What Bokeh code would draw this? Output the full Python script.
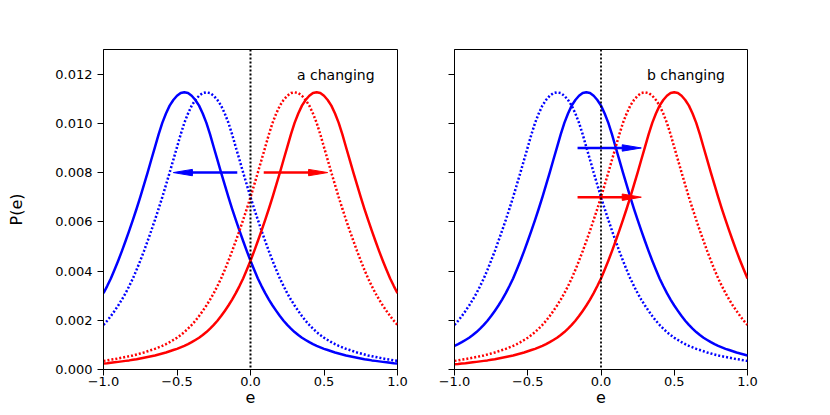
import numpy as np
from bokeh.plotting import figure
from bokeh.layouts import row
from bokeh.models import Span, FixedTicker, CustomJSTickFormatter, Range1d
from bokeh.embed import file_html
from bokeh.resources import INLINE
from bokeh.core.properties import value

# ---- data, e = -1.0 ... 1.0 in steps of 0.025 ----
e = [round(-1 + 0.025 * i, 3) for i in range(81)]

x_ticks = [-1.0, -0.5, 0.0, 0.5, 1.0]
y_ticks = [0.0, 0.002, 0.004, 0.006, 0.008, 0.010, 0.012]

# panel "a changing"
a_blue_solid = [0.00310, 0.00339, 0.00370, 0.00405, 0.00442, 0.00481, 0.00522, 0.00564, 0.00608, 0.00653,
                0.00700, 0.00750, 0.00800, 0.00852, 0.00903, 0.00955, 0.01002, 0.01040, 0.01072, 0.01095,
                0.01112, 0.01123, 0.01126,
                0.01123, 0.01112, 0.01095, 0.01072, 0.01040, 0.01002, 0.00955, 0.00903, 0.00852, 0.00800,
                0.00750, 0.00700, 0.00653, 0.00608, 0.00564, 0.00522, 0.00481, 0.00442, 0.00405, 0.00370,
                0.00339, 0.00310, 0.00284, 0.00260, 0.00238, 0.00217, 0.00198, 0.00181, 0.00166, 0.00152,
                0.00140, 0.00129, 0.00120, 0.00111, 0.00103, 0.00096, 0.00090, 0.00084, 0.00079, 0.00074,
                0.00069, 0.00065, 0.00061, 0.00057, 0.00054, 0.00051, 0.00048, 0.00045, 0.00042, 0.00040,
                0.00037, 0.00035, 0.00033, 0.00031, 0.00029, 0.00027, 0.00025, 0.00024]
a_blue_dot = [0.00181, 0.00198, 0.00217, 0.00238, 0.00260, 0.00284, 0.00310, 0.00339, 0.00370, 0.00405,
              0.00442, 0.00481, 0.00522, 0.00564, 0.00608, 0.00653, 0.00700, 0.00750, 0.00800, 0.00852,
              0.00903, 0.00955, 0.01002, 0.01040, 0.01072, 0.01095, 0.01112, 0.01123, 0.01126,
              0.01123, 0.01112, 0.01095, 0.01072, 0.01040, 0.01002, 0.00955, 0.00903, 0.00852, 0.00800,
              0.00750, 0.00700, 0.00653, 0.00608, 0.00564, 0.00522, 0.00481, 0.00442, 0.00405, 0.00370,
              0.00339, 0.00310, 0.00284, 0.00260, 0.00238, 0.00217, 0.00198, 0.00181, 0.00166, 0.00152,
              0.00140, 0.00129, 0.00120, 0.00111, 0.00103, 0.00096, 0.00090, 0.00084, 0.00079, 0.00074,
              0.00069, 0.00065, 0.00061, 0.00057, 0.00054, 0.00051, 0.00048, 0.00045, 0.00042, 0.00040,
              0.00037, 0.00035]
a_red_dot = [0.00035, 0.00037, 0.00040, 0.00042, 0.00045, 0.00048, 0.00051, 0.00054, 0.00057, 0.00061,
             0.00065, 0.00069, 0.00074, 0.00079, 0.00084, 0.00090, 0.00096, 0.00103, 0.00111, 0.00120,
             0.00129, 0.00140, 0.00152, 0.00166,
             0.00181, 0.00198, 0.00217, 0.00238, 0.00260, 0.00284, 0.00310, 0.00339, 0.00370, 0.00405,
             0.00442, 0.00481, 0.00522, 0.00564, 0.00608, 0.00653, 0.00700, 0.00750, 0.00800, 0.00852,
             0.00903, 0.00955, 0.01002, 0.01040, 0.01072, 0.01095, 0.01112, 0.01123, 0.01126,
             0.01123, 0.01112, 0.01095, 0.01072, 0.01040, 0.01002, 0.00955, 0.00903, 0.00852, 0.00800,
             0.00750, 0.00700, 0.00653, 0.00608, 0.00564, 0.00522, 0.00481, 0.00442, 0.00405, 0.00370,
             0.00339, 0.00310, 0.00284, 0.00260, 0.00238, 0.00217, 0.00198, 0.00181]
a_red_solid = [0.00024, 0.00025, 0.00027, 0.00029, 0.00031, 0.00033, 0.00035, 0.00037, 0.00040, 0.00042,
               0.00045, 0.00048, 0.00051, 0.00054, 0.00057, 0.00061, 0.00065, 0.00069, 0.00074, 0.00079,
               0.00084, 0.00090, 0.00096, 0.00103, 0.00111, 0.00120, 0.00129, 0.00140, 0.00152, 0.00166,
               0.00181, 0.00198, 0.00217, 0.00238, 0.00260, 0.00284, 0.00310, 0.00339, 0.00370, 0.00405,
               0.00442, 0.00481, 0.00522, 0.00564, 0.00608, 0.00653, 0.00700, 0.00750, 0.00800, 0.00852,
               0.00903, 0.00955, 0.01002, 0.01040, 0.01072, 0.01095, 0.01112, 0.01123, 0.01126,
               0.01123, 0.01112, 0.01095, 0.01072, 0.01040, 0.01002, 0.00955, 0.00903, 0.00852, 0.00800,
               0.00750, 0.00700, 0.00653, 0.00608, 0.00564, 0.00522, 0.00481, 0.00442, 0.00405, 0.00370,
               0.00339, 0.00310]

# panel "b changing"
b_blue_dot = [0.00181, 0.00198, 0.00217, 0.00238, 0.00260, 0.00284, 0.00310, 0.00339, 0.00370, 0.00405,
              0.00442, 0.00481, 0.00522, 0.00564, 0.00608, 0.00653, 0.00700, 0.00750, 0.00800, 0.00852,
              0.00903, 0.00955, 0.01002, 0.01040, 0.01072, 0.01095, 0.01112, 0.01123, 0.01126,
              0.01123, 0.01112, 0.01095, 0.01072, 0.01040, 0.01002, 0.00955, 0.00903, 0.00852, 0.00800,
              0.00750, 0.00700, 0.00653, 0.00608, 0.00564, 0.00522, 0.00481, 0.00442, 0.00405, 0.00370,
              0.00339, 0.00310, 0.00284, 0.00260, 0.00238, 0.00217, 0.00198, 0.00181, 0.00166, 0.00152,
              0.00140, 0.00129, 0.00120, 0.00111, 0.00103, 0.00096, 0.00090, 0.00084, 0.00079, 0.00074,
              0.00069, 0.00065, 0.00061, 0.00057, 0.00054, 0.00051, 0.00048, 0.00045, 0.00042, 0.00040,
              0.00037, 0.00035]
b_blue_solid = [0.00096, 0.00103, 0.00111, 0.00120, 0.00129, 0.00140, 0.00152, 0.00166,
                0.00181, 0.00198, 0.00217, 0.00238, 0.00260, 0.00284, 0.00310, 0.00339, 0.00370, 0.00405,
                0.00442, 0.00481, 0.00522, 0.00564, 0.00608, 0.00653, 0.00700, 0.00750, 0.00800, 0.00852,
                0.00903, 0.00955, 0.01002, 0.01040, 0.01072, 0.01095, 0.01112, 0.01123, 0.01126,
                0.01123, 0.01112, 0.01095, 0.01072, 0.01040, 0.01002, 0.00955, 0.00903, 0.00852, 0.00800,
                0.00750, 0.00700, 0.00653, 0.00608, 0.00564, 0.00522, 0.00481, 0.00442, 0.00405, 0.00370,
                0.00339, 0.00310, 0.00284, 0.00260, 0.00238, 0.00217, 0.00198, 0.00181, 0.00166, 0.00152,
                0.00140, 0.00129, 0.00120, 0.00111, 0.00103, 0.00096, 0.00090, 0.00084, 0.00079, 0.00074,
                0.00069, 0.00065, 0.00061, 0.00057]
b_red_dot = [0.00035, 0.00037, 0.00040, 0.00042, 0.00045, 0.00048, 0.00051, 0.00054, 0.00057, 0.00061,
             0.00065, 0.00069, 0.00074, 0.00079, 0.00084, 0.00090, 0.00096, 0.00103, 0.00111, 0.00120,
             0.00129, 0.00140, 0.00152, 0.00166,
             0.00181, 0.00198, 0.00217, 0.00238, 0.00260, 0.00284, 0.00310, 0.00339, 0.00370, 0.00405,
             0.00442, 0.00481, 0.00522, 0.00564, 0.00608, 0.00653, 0.00700, 0.00750, 0.00800, 0.00852,
             0.00903, 0.00955, 0.01002, 0.01040, 0.01072, 0.01095, 0.01112, 0.01123, 0.01126,
             0.01123, 0.01112, 0.01095, 0.01072, 0.01040, 0.01002, 0.00955, 0.00903, 0.00852, 0.00800,
             0.00750, 0.00700, 0.00653, 0.00608, 0.00564, 0.00522, 0.00481, 0.00442, 0.00405, 0.00370,
             0.00339, 0.00310, 0.00284, 0.00260, 0.00238, 0.00217, 0.00198, 0.00181]
b_red_solid = [0.00021, 0.00022, 0.00024, 0.00025, 0.00027, 0.00029, 0.00031, 0.00033, 0.00035, 0.00037,
               0.00040, 0.00042, 0.00045, 0.00048, 0.00051, 0.00054, 0.00057, 0.00061, 0.00065, 0.00069,
               0.00074, 0.00079, 0.00084, 0.00090, 0.00096, 0.00103, 0.00111, 0.00120, 0.00129, 0.00140,
               0.00152, 0.00166,
               0.00181, 0.00198, 0.00217, 0.00238, 0.00260, 0.00284, 0.00310, 0.00339, 0.00370, 0.00405,
               0.00442, 0.00481, 0.00522, 0.00564, 0.00608, 0.00653, 0.00700, 0.00750, 0.00800, 0.00852,
               0.00903, 0.00955, 0.01002, 0.01040, 0.01072, 0.01095, 0.01112, 0.01123, 0.01126,
               0.01123, 0.01112, 0.01095, 0.01072, 0.01040, 0.01002, 0.00955, 0.00903, 0.00852, 0.00800,
               0.00750, 0.00700, 0.00653, 0.00608, 0.00564, 0.00522, 0.00481, 0.00442, 0.00405, 0.00370]

for _s in (a_blue_solid, a_blue_dot, a_red_dot, a_red_solid, b_blue_dot, b_blue_solid, b_red_dot, b_red_solid):
    assert len(_s) == len(e), len(_s)

# arrows: start x, tip x, y
a_arrow_start = [-0.09, 0.09]
a_arrow_tip = [-0.525, 0.525]
a_arrow_y = [0.008, 0.008]
b_arrow_start = [-0.16, -0.16]
b_arrow_tip = [0.275, 0.275]
b_arrow_y = [0.009, 0.007]
arrow_colors = ["#0000ff", "#ff0000"]

panel_titles = ["a changing", "b changing"]

BLUE = "#0000ff"
RED = "#ff0000"
FONT = "DejaVu Sans"
HEAD_LEN = 0.13
HEAD_HALF = 0.00013
FIG_H = 412


def make_fig(width, bl, br, show_ylabels):
    p = figure(width=width, height=FIG_H, x_range=Range1d(-1, 1), y_range=Range1d(0, 0.013),
               output_backend="svg", toolbar_location=None,
               min_border_left=bl, min_border_right=br, min_border_top=49, min_border_bottom=43)
    p.grid.visible = False
    p.background_fill_color = "white"
    p.border_fill_color = "white"
    p.outline_line_color = "black"
    p.outline_line_width = 1
    p.outline_line_alpha = 1

    for ax in (p.xaxis[0], p.yaxis[0]):
        ax.axis_line_color = "black"
        ax.major_tick_line_color = "black"
        ax.minor_tick_line_color = None
        ax.major_tick_in = 0
        ax.major_tick_out = 6
        ax.major_label_text_font = FONT
        ax.major_label_text_color = "black"
        ax.axis_label_text_font = FONT
        ax.axis_label_text_font_style = "normal"
        ax.axis_label_text_color = "black"

    xa = p.xaxis[0]
    xa.ticker = FixedTicker(ticks=x_ticks)
    xa.formatter = CustomJSTickFormatter(code="return (tick < 0 ? '\u2212' : '') + Math.abs(tick).toFixed(1);")
    xa.major_label_text_font_size = "13px"
    xa.major_label_standoff = 1
    xa.axis_label = "e"
    xa.axis_label_text_font_size = "16px"
    xa.axis_label_standoff = 2

    ya = p.yaxis[0]
    ya.ticker = FixedTicker(ticks=y_ticks)
    if show_ylabels:
        ya.formatter = CustomJSTickFormatter(code="return tick.toFixed(3);")
        ya.major_label_text_font_size = "13px"
        ya.major_label_standoff = 5
        ya.axis_label = "P(e)"
        ya.axis_label_text_font_size = "16px"
        ya.axis_label_standoff = 26
    else:
        ya.formatter = CustomJSTickFormatter(code="return '';")
        ya.major_label_text_font_size = "0px"
    return p


def draw_arrows(p, starts, tips, ys):
    for x0, x1, y, c in zip(starts, tips, ys, arrow_colors):
        s = 1 if x1 > x0 else -1
        base = x1 - s * HEAD_LEN
        p.segment(x0=[x0], y0=[y], x1=[base + s * 0.01], y1=[y], line_color=c, line_width=2.5)
        p.patch(x=[x1, base, base], y=[y, y + HEAD_HALF, y - HEAD_HALF],
                fill_color=c, line_color=c, line_width=1)


def add_zero_line(p, w):
    p.add_layout(Span(location=0, dimension="height", line_color="black", line_width=w, line_dash="2 2"))


# ---- panel a ----
p1 = make_fig(425, 103, 28, True)
add_zero_line(p1, 2)
p1.line(e, a_blue_solid, line_color=BLUE, line_width=2.5, line_join="round")
p1.line(e, a_blue_dot, line_color=BLUE, line_width=2.5, line_dash="2 2")
p1.line(e, a_red_dot, line_color=RED, line_width=2.5, line_dash="2 2")
p1.line(e, a_red_solid, line_color=RED, line_width=2.5, line_join="round")
draw_arrows(p1, a_arrow_start, a_arrow_tip, a_arrow_y)
p1.text(x=[0.58], y=[0.01196], text=[panel_titles[0]], text_font=value(FONT), text_font_size="14px",
        text_align="center", text_baseline="alphabetic", text_color="black")

# ---- panel b ----
p2 = make_fig(397, 29, 75, False)
add_zero_line(p2, 1.8)
p2.line(e, b_blue_dot, line_color=BLUE, line_width=2.5, line_dash="2 2")
p2.line(e, b_blue_solid, line_color=BLUE, line_width=2.5, line_join="round")
p2.line(e, b_red_dot, line_color=RED, line_width=2.5, line_dash="2 2")
p2.line(e, b_red_solid, line_color=RED, line_width=2.5, line_join="round")
draw_arrows(p2, b_arrow_start, b_arrow_tip, b_arrow_y)
p2.text(x=[0.58], y=[0.01196], text=[panel_titles[1]], text_font=value(FONT), text_font_size="14px",
        text_align="center", text_baseline="alphabetic", text_color="black")

layout = row(p1, p2)
open("out.html", "w").write(file_html(layout, INLINE))
